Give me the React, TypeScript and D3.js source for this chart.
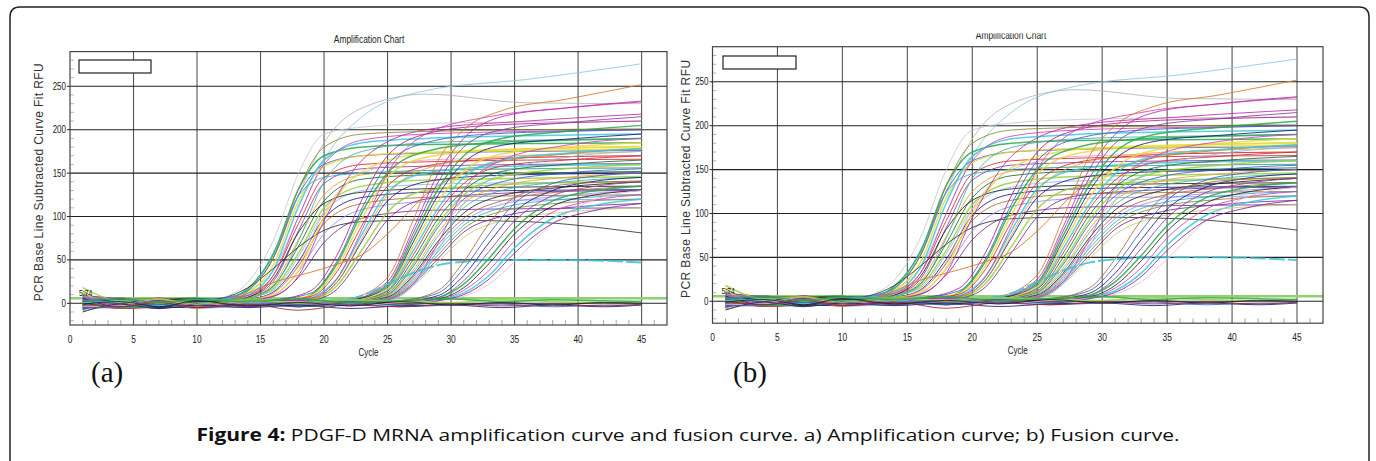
import React from "react";
import * as d3 from "d3";

// knot cycles + RFU values, grouped by when the wells take off
const earlyCycles = [1, 4, 7, 10, 12, 14, 16, 18, 20, 23, 28, 36, 45];
const earlyWells = [
  [12, -4, 5, -3, 6, 24, 72, 150, 195, 203, 207, 209, 210],
  [8, 4, -5, 3, 4, 14, 38, 100, 165, 215, 245, 258, 276],
  [-4, -6, 4, 2, 5, 17, 52, 125, 185, 225, 241, 231, 230],
  [5, 3, -6, 5, 4, 17, 56, 132, 170, 180, 183, 184, 185],
  [-6, 5, 3, -4, 5, 15, 52, 125, 160, 170, 173, 175, 176],
  [15, -5, -2, 4, 4, 12, 44, 118, 158, 170, 174, 176, 178],
  [-1, -3, 6, -5, 3, 9, 32, 92, 145, 160, 163, 165, 166],
  [3, -6, -4, 3, 2, 7, 25, 84, 138, 155, 158, 160, 161],
  [-8, 4, -5, -2, 4, 10, 38, 112, 165, 185, 190, 193, 195],
  [4, 6, 2, -4, 3, 7, 22, 74, 125, 148, 153, 155, 156],
  [0, -4, 4, 6, 0, 6, 20, 66, 118, 143, 148, 150, 152],
  [10, 2, -6, 3, 6, 9, 32, 100, 160, 188, 195, 198, 200],
  [-3, 5, -3, -5, 2, 6, 17, 58, 110, 135, 142, 144, 146],
  [6, -5, 3, 2, -1, 6, 15, 54, 105, 130, 137, 139, 140],
  [-2, 4, -4, 4, 2, 7, 28, 82, 115, 128, 132, 134, 135],
  [2, -2, 1, 5, 0, 4, 13, 48, 98, 122, 128, 130, 131],
  [-5, 3, 5, -6, 2, 4, 12, 43, 92, 115, 122, 124, 125],
  [9, -2, 4, -3, 4, 6, 19, 72, 140, 175, 185, 188, 190],
  [1, -6, 2, 5, 3, 4, 12, 45, 105, 150, 165, 168, 170],
  [-7, 5, -3, -2, -1, 4, 9, 37, 80, 108, 117, 119, 120],
  [3, -2, 6, 2, 2, 4, 8, 30, 70, 98, 107, 109, 110],
  [14, -3, -2, 3, 6, 18, 40, 65, 84, 94, 96, 94, 81],
  [-2, 3, -5, 4, 3, 4, 10, 38, 100, 152, 173, 178, 180],
  [5, 4, 2, -3, 4, 4, 8, 32, 95, 165, 200, 210, 218],
  [-4, -4, 5, -2, 5, 15, 58, 124, 145, 150, 153, 155, 156],
  [7, 5, -3, 2, 0, 14, 52, 132, 180, 195, 198, 200, 201],
];

const midCycles = [1, 4, 7, 10, 13, 16, 19, 21, 23, 25, 28, 33, 39, 45];
const midWells = [
  [4, -5, 3, 2, -3, 3, 15, 55, 120, 170, 195, 205, 208, 210],
  [-6, 4, 2, -5, 2, 4, 12, 48, 110, 160, 185, 195, 198, 200],
  [11, -3, -5, 4, 2, -2, 10, 45, 105, 150, 175, 185, 188, 190],
  [0, 5, -4, 2, -4, 2, 9, 40, 98, 145, 168, 176, 179, 181],
  [-3, -4, 5, -3, 1, 3, 8, 36, 90, 135, 158, 166, 169, 170],
  [6, 2, -2, 5, 3, -3, 6, 28, 80, 128, 150, 157, 159, 160],
  [-1, 6, -4, -5, 0, 2, 5, 24, 72, 118, 140, 147, 149, 150],
  [2, -3, 4, 1, -2, 2, 6, 28, 85, 150, 195, 215, 225, 232],
  [8, 3, 0, -4, 3, 1, 4, 20, 62, 105, 130, 136, 139, 140],
  [-5, -2, 5, 3, -3, 1, 5, 24, 75, 125, 155, 168, 172, 175],
  [1, 4, -3, 2, 4, -2, 3, 16, 55, 96, 120, 126, 129, 130],
  [3, -2, 4, -3, 6, 24, 36, 45, 56, 80, 125, 160, 172, 178],
];

const lateCycles = [1, 4, 7, 10, 14, 18, 22, 25, 27, 29, 31, 34, 39, 45];
const lateWells = [
  [1, 4, -4, 3, 2, -2, 5, 30, 95, 165, 200, 222, 235, 252],
  [-6, -3, 5, -2, 3, 2, 4, 25, 85, 150, 190, 215, 225, 233],
  [9, 5, -2, 4, -3, 1, 4, 22, 80, 140, 180, 200, 208, 215],
  [2, -5, 3, -4, 4, 2, 3, 20, 75, 132, 170, 190, 198, 205],
  [-3, 2, -5, 5, 2, -3, 3, 18, 70, 125, 162, 182, 189, 195],
  [13, -4, 4, -2, 1, 3, 3, 17, 65, 118, 152, 172, 180, 185],
  [-2, 3, 2, -5, -3, 2, 2, 15, 60, 110, 145, 165, 173, 178],
  [5, -6, -3, 3, 4, -2, 2, 14, 55, 105, 138, 158, 165, 170],
  [0, 4, 5, 2, -4, 3, 2, 12, 50, 98, 130, 152, 160, 165],
  [-9, -2, -4, 4, 2, -3, 2, 11, 45, 92, 125, 146, 155, 160],
  [4, 5, 3, -3, -2, 4, 2, 10, 42, 88, 120, 140, 150, 155],
  [-1, -4, 2, -6, 3, 2, 1, 9, 38, 82, 115, 135, 145, 150],
  [7, 3, -5, 2, 4, -4, 1, 8, 35, 78, 110, 130, 140, 145],
  [-4, -5, 4, 5, -2, 2, 1, 7, 32, 72, 104, 124, 134, 140],
  [2, 2, -3, 3, 3, -2, 1, 6, 30, 68, 98, 118, 129, 135],
  [10, -3, 5, -4, -2, 3, 1, 6, 28, 64, 94, 114, 124, 130],
  [-2, 6, -2, 2, -4, 2, 0, 5, 26, 60, 90, 110, 120, 125],
  [3, -4, -5, 4, 3, -3, 1, 5, 24, 56, 86, 106, 116, 120],
  [-7, 3, 4, -2, 2, 3, 0, 4, 22, 52, 82, 100, 110, 115],
  [1, -2, 5, -5, -3, 0, 1, 4, 20, 48, 76, 95, 105, 110],
  [6, 5, -4, 3, -2, 2, 1, 4, 22, 70, 130, 165, 182, 190],
  [-3, -5, 3, -3, 4, -2, 0, 3, 20, 62, 115, 150, 168, 175],
  [1, 3, -3, 2, 1, 2, 5, 22, 35, 44, 48, 50, 50, 47],
];

const veryLateCycles = [1, 4, 7, 10, 14, 18, 22, 26, 29, 31, 33, 35, 38, 41, 45];
const veryLateWells = [
  [0, 4, -4, 3, -3, 2, -2, 3, 12, 40, 80, 115, 138, 146, 150],
  [6, -4, 3, -2, 4, -3, 1, 2, 9, 32, 70, 105, 130, 140, 145],
  [-5, 3, 5, -4, 2, 3, -3, 2, 7, 26, 60, 95, 124, 134, 140],
  [3, -5, -2, 5, -3, 1, 2, -2, 6, 22, 52, 86, 118, 129, 135],
  [-2, 5, -5, 2, 3, -4, 1, 1, 5, 18, 46, 80, 112, 124, 130],
  [8, -3, 4, -5, -2, 3, -2, 1, 4, 15, 38, 72, 105, 118, 125],
  [1, 2, -3, 4, 3, -2, 3, -3, 3, 12, 32, 64, 98, 112, 120],
  [-4, -3, 5, -3, 2, 2, -3, 1, 3, 8, 22, 48, 92, 118, 130],
  [2, 5, -4, 3, -4, 1, 2, -2, 3, 10, 28, 58, 92, 106, 115],
  [-1, -4, 2, -3, 4, -2, 1, 3, 15, 48, 92, 122, 135, 139, 141],
];

const flatCycles = [1, 4, 7, 10, 14, 18, 22, 26, 30, 34, 38, 42, 45];
const flatWells = [
  [-10, -1, -6, -2, -5, -2, -6, -3, -2, -5, -2, -4, -2],
  [18, 3, 5, -1, 4, 1, 4, 2, 1, 4, 2, 1, 2],
  [-5, -4, -1, -5, -2, -4, -1, -4, -2, -1, -4, -2, -2],
  [0, -4, 1, -5, -1, -8, -2, -4, -1, -3, -1, -3, -1],
  [3, 5, 1, 4, 2, 5, 1, 3, 5, 2, 4, 3, 2],
  [-1, 2, -4, 3, -3, 1, -3, 2, -2, 1, -2, 1, 0],
];

// line colours, one per well row
const earlyColors = ["#c8c8c8", "#8ec8e0", "#b4b4b4", "#2aa84a", "#3c5ad0", "#e8d840", "#d22b2b", "#8a3ca8", "#3cc8d8", "#f0a030", "#107030", "#d040c0", "#9ad040", "#80c0e8", "#222222", "#1a1a80", "#a86a3a", "#40b0a0", "#f0a0c8", "#9090f0", "#7a2a9a", "#333333", "#e8e040", "#c02ca0", "#2ab0d0", "#8a8a30"];
const midColors = ["#b02090", "#3c5ad0", "#2aa84a", "#e8d840", "#d22b2b", "#3cc8d8", "#1a1a80", "#d040c0", "#9ad040", "#f0a030", "#7a2a9a", "#e07020"];
const lateColors = ["#d8782a", "#c02ca0", "#8a3ca8", "#2aa84a", "#1a1a80", "#e8d840", "#3cc8d8", "#d22b2b", "#107030", "#9ad040", "#3c5ad0", "#f0a030", "#40b0a0", "#222222", "#a86a3a", "#9090f0", "#2ab0d0", "#8a8a30", "#7a2a9a", "#c8c870", "#d040c0", "#80c0e8", "#3cc0d0"];
const veryLateColors = ["#3c5ad0", "#1a1a80", "#8a3ca8", "#2aa84a", "#222222", "#d040c0", "#3cc8d8", "#f0b8d0", "#7a2a9a", "#a86a3a"];
const flatColors = ["#1a1a80", "#9ad040", "#3c5ad0", "#a02020", "#2aa84a", "#222222"];
const thickColors = new Set(["#e8d840", "#2aa84a", "#3cc8d8", "#9ad040", "#e8e040", "#3cc0d0"]);

const groups = [
  { key: "early", cycles: earlyCycles, wells: earlyWells, colors: earlyColors },
  { key: "mid", cycles: midCycles, wells: midWells, colors: midColors },
  { key: "late", cycles: lateCycles, wells: lateWells, colors: lateColors },
  { key: "vlate", cycles: veryLateCycles, wells: veryLateWells, colors: veryLateColors },
  { key: "flat", cycles: flatCycles, wells: flatWells, colors: flatColors },
];

const xTicks = [0, 5, 10, 15, 20, 25, 30, 35, 40, 45];
const yTicks = [0, 50, 100, 150, 200, 250];
const threshold = 5.74;

const AXIS_FONT = "'Liberation Sans', Arial, sans-serif";

type PanelSpec = {
  id: string;
  left: number;
  right: number;
  top: number;
  bottom: number;
  titleX: number;
  titleY: number;
  titleClip?: number;
  yLabelX: number;
  box: [number, number, number, number];
  letter: string;
  letterX: number;
};

const panels: PanelSpec[] = [
  { id: "a", left: 70, right: 667, top: 51.6, bottom: 325, titleX: 369, titleY: 43, yLabelX: 43, box: [79, 60, 72, 13], letter: "(a)", letterX: 91 },
  { id: "b", left: 712.5, right: 1323, top: 46.7, bottom: 323.2, titleX: 1011, titleY: 38.5, titleClip: 33.5, yLabelX: 690, box: [723, 56, 73, 13], letter: "(b)", letterX: 733 },
];

function Squeezed({ x, y, anchor, size, children, fill = "#222" }: any) {
  return (
    <text transform={`translate(${x},${y}) scale(0.8,1)`} textAnchor={anchor} fontSize={size} fontFamily={AXIS_FONT} fill={fill}>
      {children}
    </text>
  );
}

function Panel({ p }: { p: PanelSpec }) {
  const x = d3.scaleLinear().domain([0, 47]).range([p.left, p.right]);
  const y = d3.scaleLinear().domain([-25, 290]).range([p.bottom, p.top]);
  const line = d3
    .line<[number, number]>()
    .x((d) => x(d[0]))
    .y((d) => y(d[1]))
    .curve(d3.curveMonotoneX);
  const clipId = `plot-${p.id}`;
  const xMinor = d3.range(1, 47).filter((c) => c % 5 !== 0);
  const yMinor = d3.range(-20, 290, 10).filter((v) => v % 50 !== 0);

  return (
    <g>
      <defs>
        <clipPath id={clipId}>
          <rect x={p.left} y={p.top} width={p.right - p.left} height={p.bottom - p.top} />
        </clipPath>
        {p.titleClip != null && (
          <clipPath id={`${clipId}-title`}>
            <rect x={0} y={p.titleClip} width={1376} height={40} />
          </clipPath>
        )}
      </defs>

      <g clipPath={p.titleClip != null ? `url(#${clipId}-title)` : undefined}>
        <Squeezed x={p.titleX} y={p.titleY} anchor="middle" size={10.5}>
          Amplification Chart
        </Squeezed>
      </g>

      {/* minor ticks */}
      {xMinor.map((c) => (
        <line key={`xm${c}`} x1={x(c)} x2={x(c)} y1={p.bottom - 5} y2={p.bottom} stroke="#aaa" strokeWidth={1} />
      ))}
      {yMinor.map((v) => (
        <line key={`ym${v}`} x1={p.left} x2={p.left + 4} y1={y(v)} y2={y(v)} stroke="#bbb" strokeWidth={1} />
      ))}

      {/* grid */}
      {xTicks.slice(1).map((c) => (
        <line key={`gx${c}`} x1={x(c)} x2={x(c)} y1={p.top} y2={p.bottom} stroke="#555" strokeWidth={1.1} />
      ))}
      {yTicks.map((v) => (
        <line key={`gy${v}`} x1={p.left} x2={p.right} y1={y(v)} y2={y(v)} stroke="#222" strokeWidth={1.1} />
      ))}

      <g clipPath={`url(#${clipId})`}>
        <line x1={p.left} x2={p.right} y1={y(threshold)} y2={y(threshold)} stroke="#90d070" strokeWidth={2.5} />
        {groups.map((g) =>
          g.wells.map((vals, i) => {
            const pts = g.cycles.map((c, k) => [c, vals[k]] as [number, number]);
            const color = g.colors[i % g.colors.length];
            const dashed = g.key === "late" && i === g.wells.length - 1;
            return (
              <path
                key={`${g.key}${i}`}
                d={line(pts) || ""}
                fill="none"
                stroke={color}
                strokeOpacity={0.85}
                strokeWidth={dashed ? 2 : thickColors.has(color) ? 1.5 : 1}
                strokeDasharray={dashed ? "16 3" : undefined}
              />
            );
          })
        )}
      </g>

      <rect x={p.left} y={p.top} width={p.right - p.left} height={p.bottom - p.top} fill="none" stroke="#444" strokeWidth={1.2} />

      <rect x={p.box[0]} y={p.box[1]} width={p.box[2]} height={p.box[3]} fill="#fff" stroke="#222" strokeWidth={1.2} />

      <Squeezed x={p.left + 9} y={y(threshold) - 2} anchor="start" size={8.5}>
        {threshold.toFixed(2)}
      </Squeezed>

      {/* y axis */}
      {yTicks.map((v) => (
        <g key={`yt${v}`}>
          <line x1={p.left - 3} x2={p.left} y1={y(v)} y2={y(v)} stroke="#222" />
          <Squeezed x={p.left - 4} y={y(v) + 3.5} anchor="end" size={10}>
            {v}
          </Squeezed>
        </g>
      ))}
      <text
        transform={`translate(${p.yLabelX},${(p.top + p.bottom) / 2 - 6}) rotate(-90)`}
        textAnchor="middle"
        fontSize={12}
        fontFamily={AXIS_FONT}
        fill="#333"
        textLength={238}
        lengthAdjust="spacing"
      >
        PCR Base Line Subtracted Curve Fit RFU
      </text>

      {/* x axis */}
      {xTicks.map((c) => (
        <Squeezed key={`xt${c}`} x={x(c)} y={p.bottom + 18} anchor="middle" size={10.5}>
          {c}
        </Squeezed>
      ))}
      <Squeezed x={(p.left + p.right) / 2} y={p.bottom + 31} anchor="middle" size={10}>
        Cycle
      </Squeezed>

      <text x={p.letterX} y={382} fontSize={29} fontFamily="'Liberation Serif', 'DejaVu Serif', serif" fill="#111">
        {p.letter}
      </text>
    </g>
  );
}

export default function App() {
  return (
    <svg width={1376} height={461} style={{ position: "absolute", left: 0, top: 0, background: "#fff" }}>
      <rect x={0} y={0} width={1376} height={461} fill="#fff" />
      <path d="M10,470 L10,17 Q10,7 20,7 L1359,7 Q1369,7 1369,17 L1369,470" fill="none" stroke="#222" strokeWidth={1.5} />
      {panels.map((p) => (
        <Panel key={p.id} p={p} />
      ))}
      <text x={688} y={441} textAnchor="middle" fontSize={17} fontFamily="'Open Sans', 'Noto Sans', sans-serif" fill="#111" textLength={983} lengthAdjust="spacingAndGlyphs">
        <tspan fontWeight="bold">Figure 4:</tspan> PDGF-D MRNA amplification curve and fusion curve. a) Amplification curve; b) Fusion curve.
      </text>
    </svg>
  );
}
